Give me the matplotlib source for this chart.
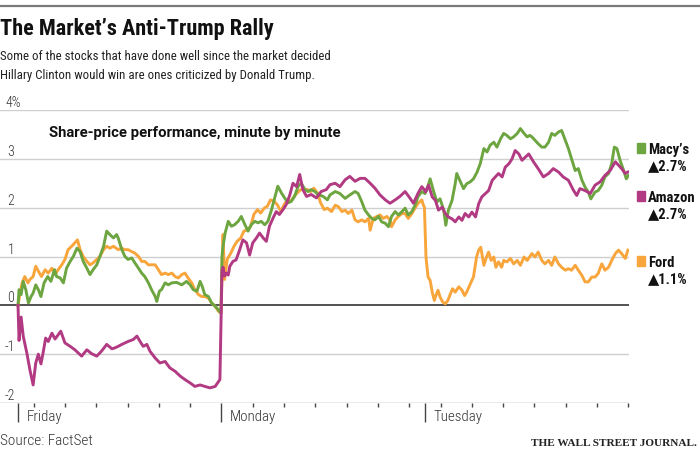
import numpy as np
import matplotlib
matplotlib.use("Agg")
import matplotlib.pyplot as plt
from matplotlib import font_manager

# time = trading minutes since Friday's open (Fri 0-390, Mon 390-780, Tue 780-1170)
macys_t = [0, 2, 6, 10, 15, 20, 25, 29, 34, 39, 44, 50, 57, 63, 70, 74, 81, 87, 93, 100,
           106, 113, 119, 125, 132, 138, 144, 151, 157, 164, 170, 176, 183, 189, 192, 199, 205, 211, 218, 224,
           231, 237, 243, 250, 256, 263, 266, 271, 275, 282, 288, 295, 304, 314, 323, 330, 336, 343, 349, 353,
           358, 365, 371, 378, 384, 389,
           391, 393, 397, 403, 409, 415, 422, 428, 435, 441, 447, 454, 460, 466, 473, 479, 486, 492, 498, 505,
           511, 518, 524, 530, 537, 543, 550, 556, 562, 569, 575, 585, 593, 598, 608, 617, 627, 636, 646, 652,
           659, 665, 672, 678, 684, 691, 697, 704, 710, 716, 723, 729, 736, 742, 748, 755, 761, 767, 774, 780,
           783, 786, 790, 797, 803, 809, 816, 820, 825, 832, 838, 841, 848, 854, 860, 867, 873, 880, 886, 893,
           899, 905, 912, 918, 925, 931, 937, 944, 950, 957, 963, 970, 976, 981, 985, 991, 997, 1004, 1010, 1017,
           1023, 1029, 1036, 1042, 1049, 1055, 1061, 1068, 1074, 1081, 1087, 1093, 1098, 1106, 1112, 1119, 1125, 1132, 1138, 1143,
           1148, 1154, 1161, 1166, 1170]
macys_v = [0.0, 0.32, 0.22, 0.49, 0.32, 0.05, 0.18, 0.25, 0.42, 0.32, 0.18, 0.46, 0.59, 0.49, 0.73, 0.59, 0.56, 0.46, 0.76, 0.9,
           1.0, 1.17, 1.1, 0.9, 0.76, 0.63, 0.73, 0.83, 1.0, 1.21, 1.52, 1.45, 1.38, 1.45, 1.38, 1.14, 1.0, 0.94, 0.97, 0.87,
           0.76, 0.66, 0.59, 0.46, 0.32, 0.18, 0.08, 0.29, 0.32, 0.46, 0.42, 0.46, 0.47, 0.42, 0.49, 0.42, 0.32, 0.29, 0.49, 0.39,
           0.22, 0.18, 0.05, -0.02, -0.09, -0.16,
           1.0, 1.21, 1.48, 1.72, 1.62, 1.65, 1.72, 1.82, 1.65, 1.52, 1.65, 1.72, 1.69, 1.72, 1.65, 1.72, 1.96, 2.2, 2.44, 2.3,
           2.2, 2.1, 2.13, 2.23, 2.44, 2.5, 2.37, 2.33, 2.37, 2.33, 2.27, 2.23, 2.16, 2.26, 2.33, 2.29, 2.19, 2.26, 2.33, 2.29,
           2.12, 1.95, 1.85, 1.78, 1.75, 1.82, 1.71, 1.68, 1.61, 1.82, 1.92, 1.85, 1.92, 1.99, 1.85, 1.92, 2.05, 2.23, 2.33, 2.29,
           2.35, 2.45, 2.59, 2.32, 2.12, 2.18, 1.95, 1.64, 1.95, 2.15, 2.49, 2.7, 2.53, 2.39, 2.49, 2.53, 2.59, 2.73, 2.9, 3.21,
           3.14, 3.28, 3.34, 3.24, 3.41, 3.52, 3.48, 3.41, 3.45, 3.52, 3.62, 3.52, 3.45, 3.48, 3.45, 3.38, 3.31, 3.24, 3.24, 3.34,
           3.52, 3.48, 3.55, 3.58, 3.38, 3.21, 3.0, 2.76, 2.8, 2.56, 2.42, 2.32, 2.18, 2.32, 2.35, 2.46, 2.63, 2.7, 2.9, 3.24,
           3.21, 2.97, 2.76, 2.59, 2.66]

amazon_t = [0, 2, 6, 10, 17, 23, 29, 34, 39, 44, 48, 53, 58, 65, 71, 82, 90, 100, 109, 122,
            132, 141, 151, 160, 170, 180, 186, 192, 199, 211, 221, 228, 234, 240, 247, 253, 263, 272, 282, 291,
            301, 311, 320, 330, 339, 349, 358, 368, 378, 387,
            391, 393, 396, 399, 403, 406, 412, 418, 425, 431, 438, 444, 450, 457, 463, 470, 476, 482, 489, 495,
            501, 508, 514, 521, 527, 534, 540, 546, 553, 562, 572, 581, 591, 598, 608, 617, 627, 636, 646, 656,
            665, 675, 684, 694, 704, 713, 723, 732, 742, 751, 758, 767, 774, 780,
            781, 787, 794, 800, 806, 813, 819, 825, 832, 838, 845, 851, 857, 864, 870, 877, 883, 889, 896, 902,
            909, 915, 921, 928, 934, 941, 947, 953, 960, 966, 973, 979, 988, 997, 1007, 1017, 1026, 1036, 1045, 1055,
            1065, 1071, 1077, 1087, 1097, 1106, 1116, 1125, 1135, 1145, 1151, 1157, 1164, 1169]
amazon_v = [0.0, -0.72, -0.24, -0.63, -0.98, -1.33, -1.63, -1.18, -1.0, -1.2, -0.98, -0.67, -0.74, -0.57, -0.69, -0.53, -0.77, -0.84, -0.91, -1.04,
            -0.91, -0.99, -1.04, -0.94, -0.8, -0.89, -0.87, -0.84, -0.8, -0.74, -0.7, -0.63, -0.74, -0.84, -0.8, -0.94, -1.08, -1.18, -1.15, -1.28,
            -1.35, -1.45, -1.52, -1.59, -1.66, -1.63, -1.66, -1.69, -1.66, -1.52,
            0.7, 0.78, 0.6, 0.66, 0.62, 0.8, 0.9, 0.93, 1.14, 1.34, 1.28, 1.03, 1.28, 1.38, 1.48, 1.38, 1.31, 1.62, 1.79, 1.92,
            1.86, 1.96, 2.06, 2.26, 2.5, 2.43, 2.68, 2.37, 2.23, 2.27, 2.2, 2.33, 2.37, 2.47, 2.5, 2.43, 2.57, 2.64, 2.54, 2.6,
            2.6, 2.5, 2.4, 2.26, 2.16, 2.09, 2.16, 2.23, 2.33, 2.2, 2.09, 2.3, 2.43, 2.35,
            2.32, 2.46, 2.22, 2.15, 1.95, 2.01, 1.88, 1.81, 1.77, 1.71, 1.81, 1.74, 1.88, 1.81, 1.91, 1.81, 2.08, 2.22, 2.29, 2.35,
            2.56, 2.63, 2.7, 2.63, 2.83, 2.9, 3.0, 3.17, 3.1, 2.97, 3.04, 3.1, 2.94, 2.8, 2.63, 2.7, 2.8, 2.73, 2.63, 2.56,
            2.35, 2.25, 2.39, 2.35, 2.29, 2.46, 2.53, 2.66, 2.76, 2.94, 2.87, 2.8, 2.7, 2.73]

ford_t = [0, 4, 8, 13, 19, 23, 29, 34, 39, 45, 52, 58, 65, 71, 77, 84, 90, 96, 103, 109,
          114, 119, 125, 132, 138, 144, 151, 157, 164, 170, 176, 183, 192, 199, 205, 211, 218, 224, 231, 237,
          243, 250, 256, 263, 269, 275, 282, 288, 295, 301, 307, 314, 320, 326, 333, 339, 346, 352, 358, 365,
          371, 378, 384, 389,
          391, 393, 396, 401, 408, 414, 420, 427, 433, 440, 446, 452, 459, 465, 472, 478, 484, 491, 497, 504,
          510, 516, 523, 529, 535, 542, 548, 555, 561, 567, 574, 580, 587, 593, 601, 608, 614, 621, 627, 633,
          640, 646, 652, 659, 665, 672, 675, 681, 688, 694, 700, 707, 713, 716, 723, 729, 736, 742, 748, 755,
          761, 767, 774, 777, 779,
          782, 786, 790, 794, 798, 801, 805, 809, 814, 819, 824, 829, 833, 838, 845, 851, 856, 860, 867, 873,
          879, 883, 887, 893, 898, 902, 907, 912, 916, 921, 927, 931, 937, 944, 950, 957, 963, 970, 976, 985,
          991, 997, 1004, 1010, 1017, 1023, 1029, 1036, 1042, 1049, 1055, 1061, 1068, 1074, 1081, 1087, 1093, 1100, 1106, 1112,
          1119, 1125, 1132, 1138, 1145, 1151, 1157, 1164, 1169]
ford_v = [0.0, 0.25, 0.46, 0.59, 0.46, 0.53, 0.59, 0.8, 0.7, 0.59, 0.73, 0.66, 0.76, 0.63, 0.73, 0.83, 0.94, 1.14, 1.21, 1.28,
          1.34, 1.14, 1.0, 0.9, 0.83, 0.87, 0.94, 1.0, 1.14, 1.21, 1.17, 1.21, 1.14, 1.17, 1.14, 1.14, 1.1, 1.07, 1.0, 0.9,
          0.9, 0.83, 0.83, 0.83, 0.73, 0.63, 0.66, 0.63, 0.66, 0.59, 0.56, 0.63, 0.66, 0.56, 0.46, 0.32, 0.22, 0.18, 0.18, 0.15,
          0.05, -0.02, -0.12, -0.16,
          0.6, 1.45, 0.53, 0.94, 1.07, 1.21, 1.31, 1.38, 1.52, 1.55, 1.62, 1.86, 1.96, 1.89, 1.99, 2.03, 2.16, 2.13, 2.06, 1.92,
          2.06, 2.16, 2.13, 2.23, 2.3, 2.37, 2.37, 2.37, 2.33, 2.4, 2.3, 2.1, 1.96, 1.99, 1.92, 2.05, 2.02, 1.92, 1.95, 1.88,
          1.95, 1.75, 1.71, 1.75, 1.71, 1.78, 1.54, 1.78, 1.82, 1.85, 1.78, 1.82, 1.75, 1.61, 1.75, 1.82, 1.88, 1.88, 1.78, 1.88,
          1.99, 2.09, 2.16, 2.05, 2.01,
          0.99, 0.58, 0.51, 0.27, 0.1, 0.2, 0.31, 0.17, 0.07, 0.03, 0.1, 0.24, 0.34, 0.27, 0.38, 0.31, 0.2, 0.27, 0.44, 0.58,
          0.99, 1.13, 1.19, 0.82, 0.99, 1.09, 0.92, 0.99, 0.78, 0.89, 0.78, 0.92, 0.89, 0.96, 0.85, 0.92, 0.82, 0.99, 0.92, 1.06,
          0.99, 1.09, 0.92, 0.85, 0.92, 0.82, 0.99, 0.85, 0.78, 0.72, 0.75, 0.72, 0.82, 0.72, 0.61, 0.48, 0.48, 0.58, 0.58, 0.65,
          0.85, 0.72, 0.78, 0.92, 1.06, 1.13, 1.06, 0.96, 1.13]

names = ["Macy\u2019s", "Amazon", "Ford"]
changes = ["\u25B22.7%", "\u25B22.7%", "\u25B21.1%"]
colors = ["#6da540", "#b23a83", "#f8a53c"]

y_ticks = [4, 3, 2, 1, 0, -1, -2]
y_labels = ["4%", "3", "2", "1", "0", "-1", "-2"]
day_starts = [0, 390, 780]
day_names = ["Friday", "Monday", "Tuesday"]

installed = {f.name for f in font_manager.fontManager.ttflist}
cond = "Roboto Condensed" if "Roboto Condensed" in installed else "Liberation Sans"
fam = [cond, "DejaVu Sans"]
fam_wide = ["Roboto", "DejaVu Sans"]

W, H = 700, 450
fig = plt.figure(figsize=(7, 4.5), dpi=100)

def fx(px):
    return px / W

def fy(py):
    return 1 - py / H

ax = fig.add_axes([0, fy(403), 629 / W, (403 - 110) / H])
ax.set_ylim(-2, 4)
# m=0 sits at px 18, m=1170 at px 628.4
scale = (628.4 - 18) / 1170
ax.set_xlim(-18 / scale, (629 - 18) / scale)

for v in y_ticks:
    if v == 0:
        ax.axhline(v, color="#222222", lw=1.1, zorder=3)
    elif v == -2:
        ax.axhline(v, color="#9a9a9a", lw=1.0, zorder=1)
    else:
        ax.axhline(v, color="#cfcfcf", lw=1.0, zorder=1)

ax.plot(ford_t, ford_v, color=colors[2], lw=2.1, zorder=4, solid_joinstyle="round")
ax.plot(macys_t, macys_v, color=colors[0], lw=2.1, zorder=5, solid_joinstyle="round")
ax.plot(amazon_t, amazon_v, color=colors[1], lw=2.1, zorder=6, solid_joinstyle="round")

for s in ax.spines.values():
    s.set_visible(False)
ax.set_yticks([])
ax.set_xticks(day_starts)
ax.set_xticks(np.arange(30, 1171, 60), minor=True)
ax.tick_params(axis="x", which="major", length=14, width=1.0, color="#444444", labelbottom=False)
ax.tick_params(axis="x", which="minor", length=3, width=1.0, color="#444444")

ytrans = ax.get_yaxis_transform()
for v, lab in zip(y_ticks, y_labels):
    if lab.endswith("%"):
        ax.text(5.5 / 629, v, lab, transform=ytrans, ha="left", va="bottom", fontsize=10,
                color="#333333", family=fam, fontweight="light")
    else:
        ax.text(14.5 / 629, v, lab, transform=ytrans, ha="right", va="bottom", fontsize=10,
                color="#333333", family=fam, fontweight="light")

for d, name in zip(day_starts, day_names):
    ax.annotate(name, xy=(d, -2), xytext=(6, -13), textcoords="offset points",
                ha="left", va="baseline", fontsize=10.8, color="#333333", family=fam,
                fontweight="light")

fig.add_artist(plt.Line2D([0, 1], [fy(6), fy(6)], color="#7a7a7a", lw=1.6))
fig.text(fx(0), fy(35), "The Market\u2019s Anti-Trump Rally", fontsize=16, fontweight="bold",
         color="#111111", family=fam, va="baseline")
fig.text(fx(0), fy(60.5), "Some of the stocks that have done well since the market decided",
         fontsize=9.3, color="#222222", family=fam, va="baseline")
fig.text(fx(0), fy(78.5), "Hillary Clinton would win are ones criticized by Donald Trump.",
         fontsize=9.3, color="#222222", family=fam, va="baseline")
fig.text(fx(49), fy(137), "Share-price performance, minute by minute", fontsize=10.7,
         fontweight="bold", color="#111111", family=fam_wide, va="baseline")

leg_y = [153, 201, 266]
for name, ch, c, yb in zip(names, changes, colors, leg_y):
    fig.patches.append(plt.Rectangle((fx(637), fy(yb)), 8 / W, 10.5 / H, color=c,
                                     transform=fig.transFigure, figure=fig))
    fig.text(fx(648), fy(yb + 1), name, fontsize=10.5, fontweight="bold", color="#111111",
             family=fam, va="baseline")
    fig.text(fx(648), fy(yb + 17), ch, fontsize=10.5, fontweight="bold", color="#111111",
             family=fam, va="baseline")

fig.text(fx(0), fy(445), "Source: FactSet", fontsize=11, color="#333333", family=fam,
         va="baseline", fontweight="light")
fig.text(fx(697), fy(446), "THE WALL STREET JOURNAL.", fontsize=8.1, fontweight="bold",
         color="#222222", family=["Liberation Serif", "DejaVu Serif"], ha="right", va="baseline")

fig.savefig("out.png", dpi=100)
